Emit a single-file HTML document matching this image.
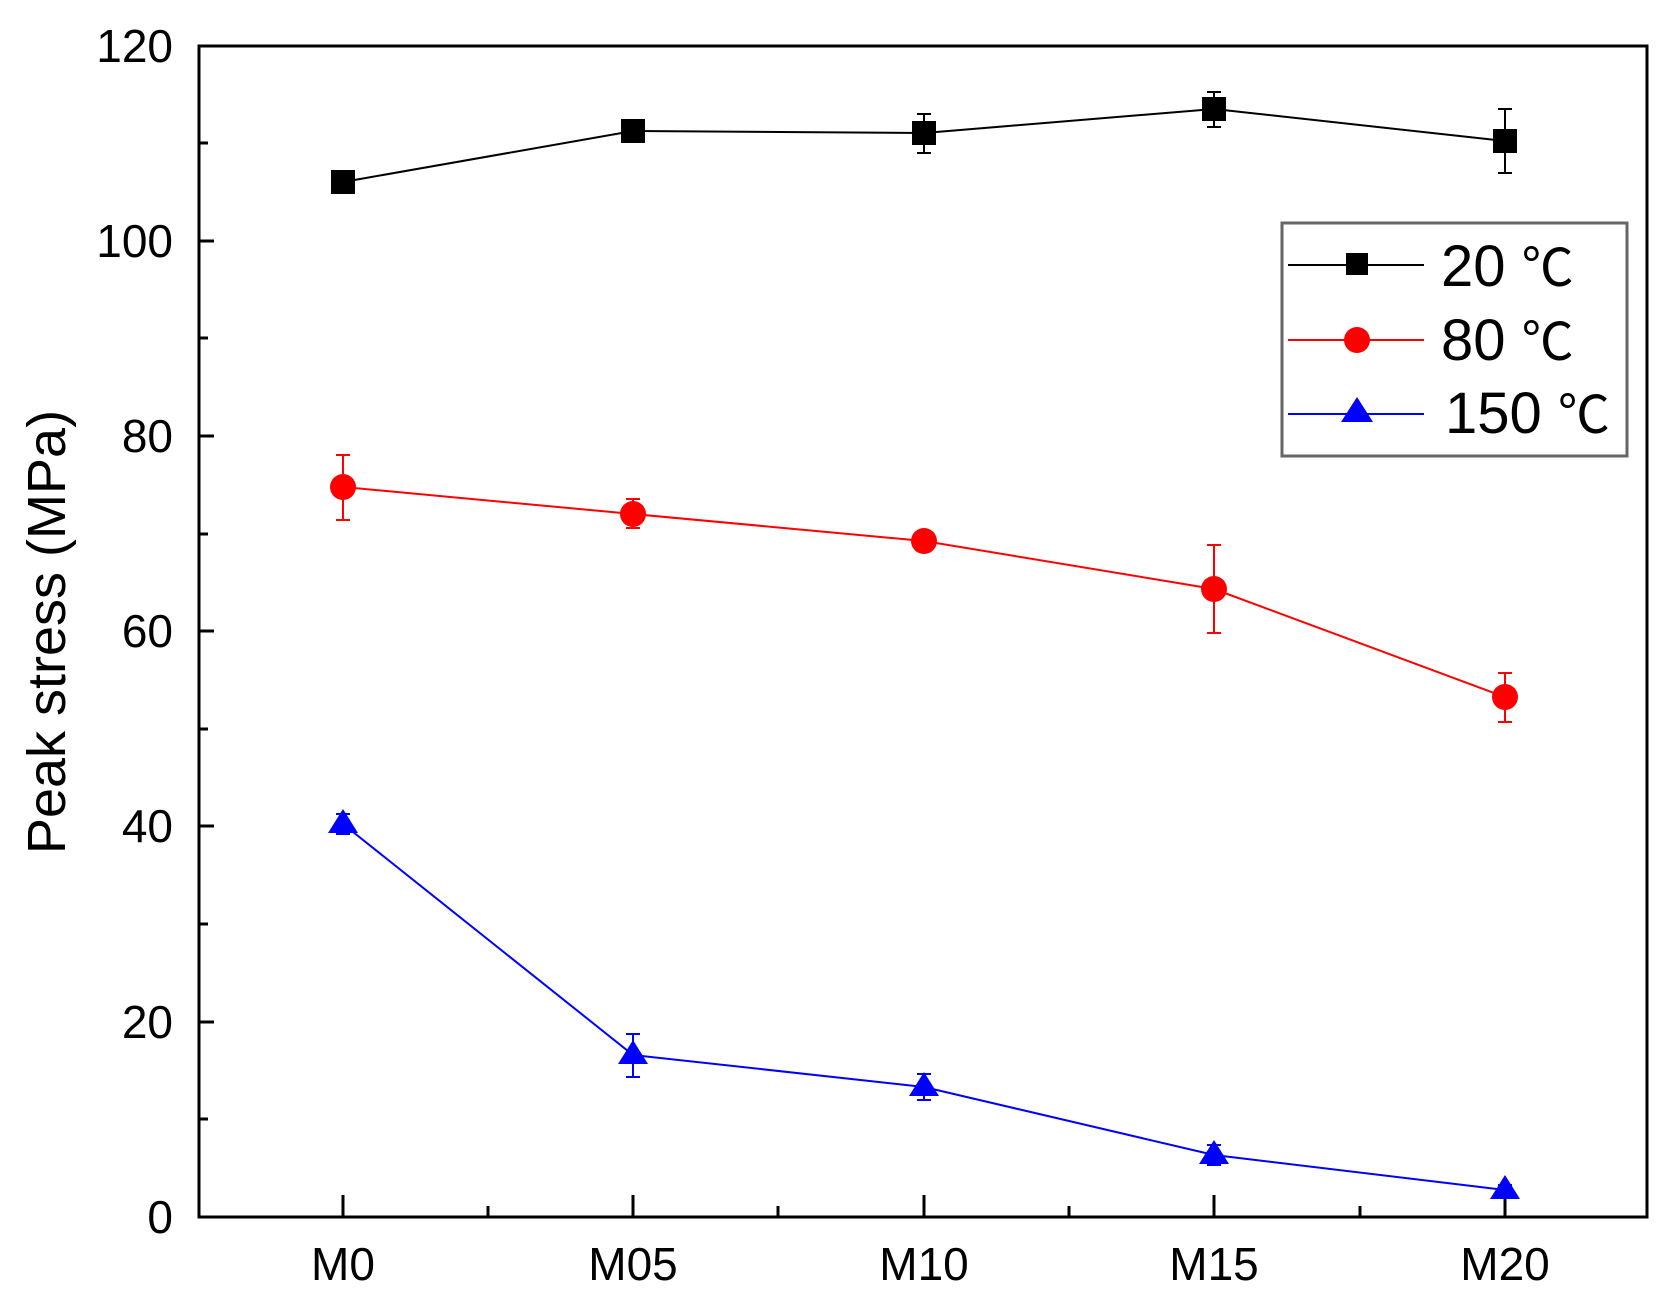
<!DOCTYPE html>
<html><head><meta charset="utf-8"><style>body{margin:0;background:#fff}svg{display:block}</style></head>
<body>
<svg width="1664" height="1307" viewBox="0 0 1664 1307" xmlns="http://www.w3.org/2000/svg" font-family="Liberation Sans, Arial, sans-serif">
<rect width="1664" height="1307" fill="#fff"/>
<g id="ticks" stroke="#000" stroke-width="3">
<!-- y major -->
<line x1="199" y1="1217" x2="214" y2="1217"/>
<line x1="199" y1="1022" x2="214" y2="1022"/>
<line x1="199" y1="826" x2="214" y2="826"/>
<line x1="199" y1="631" x2="214" y2="631"/>
<line x1="199" y1="436" x2="214" y2="436"/>
<line x1="199" y1="241" x2="214" y2="241"/>
<line x1="199" y1="46" x2="214" y2="46"/>
<!-- y minor -->
<line x1="199" y1="1119" x2="208" y2="1119"/>
<line x1="199" y1="924" x2="208" y2="924"/>
<line x1="199" y1="729" x2="208" y2="729"/>
<line x1="199" y1="534" x2="208" y2="534"/>
<line x1="199" y1="338" x2="208" y2="338"/>
<line x1="199" y1="143" x2="208" y2="143"/>
<!-- x major -->
<line x1="343" y1="1217" x2="343" y2="1195"/>
<line x1="633" y1="1217" x2="633" y2="1195"/>
<line x1="924" y1="1217" x2="924" y2="1195"/>
<line x1="1214" y1="1217" x2="1214" y2="1195"/>
<line x1="1505" y1="1217" x2="1505" y2="1195"/>
<line x1="488" y1="1217" x2="488" y2="1206"/>
<line x1="778" y1="1217" x2="778" y2="1206"/>
<line x1="1069" y1="1217" x2="1069" y2="1206"/>
<line x1="1360" y1="1217" x2="1360" y2="1206"/>
</g>
<rect x="199" y="46" width="1448" height="1171" fill="none" stroke="#000" stroke-width="3"/>
<g font-size="46" fill="#000" text-anchor="end">
<text x="173" y="1233">0</text>
<text x="173" y="1038">20</text>
<text x="173" y="842">40</text>
<text x="173" y="647">60</text>
<text x="173" y="452">80</text>
<text x="173" y="257">100</text>
<text x="173" y="62">120</text>
</g>
<g font-size="46" fill="#000" text-anchor="middle">
<text x="343" y="1280">M0</text>
<text x="633" y="1280">M05</text>
<text x="924" y="1280">M10</text>
<text x="1214" y="1280">M15</text>
<text x="1505" y="1280">M20</text>
</g>
<text transform="translate(65,632) rotate(-90)" font-size="54" text-anchor="middle">Peak stress (MPa)</text>

<!-- 20C -->
<g stroke="#000" stroke-width="2" fill="none">
<polyline points="343,182 633,131 924,133 1214,109 1505,141"/>
<path d="M343,177v10M336,177h14M336,187h14"/>
<path d="M633,123v16M626,123h14M626,139h14"/>
<path d="M924,114v39M917,114h14M917,153h14"/>
<path d="M1214,92v35M1207,92h14M1207,127h14"/>
<path d="M1505,109v64M1498,109h14M1498,173h14"/>
</g>
<g fill="#000">
<rect x="331" y="170" width="24" height="24"/>
<rect x="621" y="119" width="24" height="24"/>
<rect x="912" y="121" width="24" height="24"/>
<rect x="1202" y="97" width="24" height="24"/>
<rect x="1493" y="129" width="24" height="24"/>
</g>
<!-- 80C -->
<g stroke="#f00" stroke-width="2" fill="none">
<polyline points="343,487 633,514 924,541 1214,589 1505,697"/>
<path d="M343,455v65M336,455h14M336,520h14"/>
<path d="M633,499v29M626,499h14M626,528h14"/>
<path d="M924,536v10M917,536h14M917,546h14"/>
<path d="M1214,545v88M1207,545h14M1207,633h14"/>
<path d="M1505,673v49M1498,673h14M1498,722h14"/>
</g>
<g fill="#f00">
<circle cx="343" cy="487" r="13"/>
<circle cx="633" cy="514" r="13"/>
<circle cx="924" cy="541" r="13"/>
<circle cx="1214" cy="589" r="13"/>
<circle cx="1505" cy="697" r="13"/>
</g>
<!-- 150C -->
<g stroke="#00f" stroke-width="2" fill="none">
<polyline points="343,824 633,1055 924,1087 1214,1155 1505,1190"/>
<path d="M343,814v20M336,814h14M336,834h14"/>
<path d="M633,1034v43M626,1034h14M626,1077h14"/>
<path d="M924,1074v26M917,1074h14M917,1100h14"/>
<path d="M1214,1145v20M1207,1145h14M1207,1165h14"/>
<path d="M1505,1185v10M1498,1185h14M1498,1195h14"/>
</g>
<g fill="#00f">
<path d="M343,809l15,24h-30z"/>
<path d="M633,1040l15,24h-30z"/>
<path d="M924,1072l15,24h-30z"/>
<path d="M1214,1140l15,24h-30z"/>
<path d="M1505,1175l15,24h-30z"/>
</g>
<!-- legend -->
<rect x="1282" y="223" width="345" height="233" fill="#fff" stroke="#666" stroke-width="3"/>
<line x1="1288" y1="265" x2="1424" y2="265" stroke="#000" stroke-width="2"/>
<rect x="1346" y="253" width="22" height="22" fill="#000"/>
<line x1="1288" y1="340" x2="1424" y2="340" stroke="#f00" stroke-width="2"/>
<circle cx="1357" cy="340" r="13" fill="#f00"/>
<line x1="1288" y1="414" x2="1424" y2="414" stroke="#00f" stroke-width="2"/>
<path d="M1357,397l16,25h-32z" fill="#00f"/>
<g font-size="58" fill="#000">
<text x="1441" y="286">20 <tspan font-family="Noto Sans CJK SC, sans-serif" font-size="52">℃</tspan></text>
<text x="1441" y="360">80 <tspan font-family="Noto Sans CJK SC, sans-serif" font-size="52">℃</tspan></text>
<text x="1445" y="433">150 <tspan font-family="Noto Sans CJK SC, sans-serif" font-size="52">℃</tspan></text>
</g>
</svg>
</body></html>
